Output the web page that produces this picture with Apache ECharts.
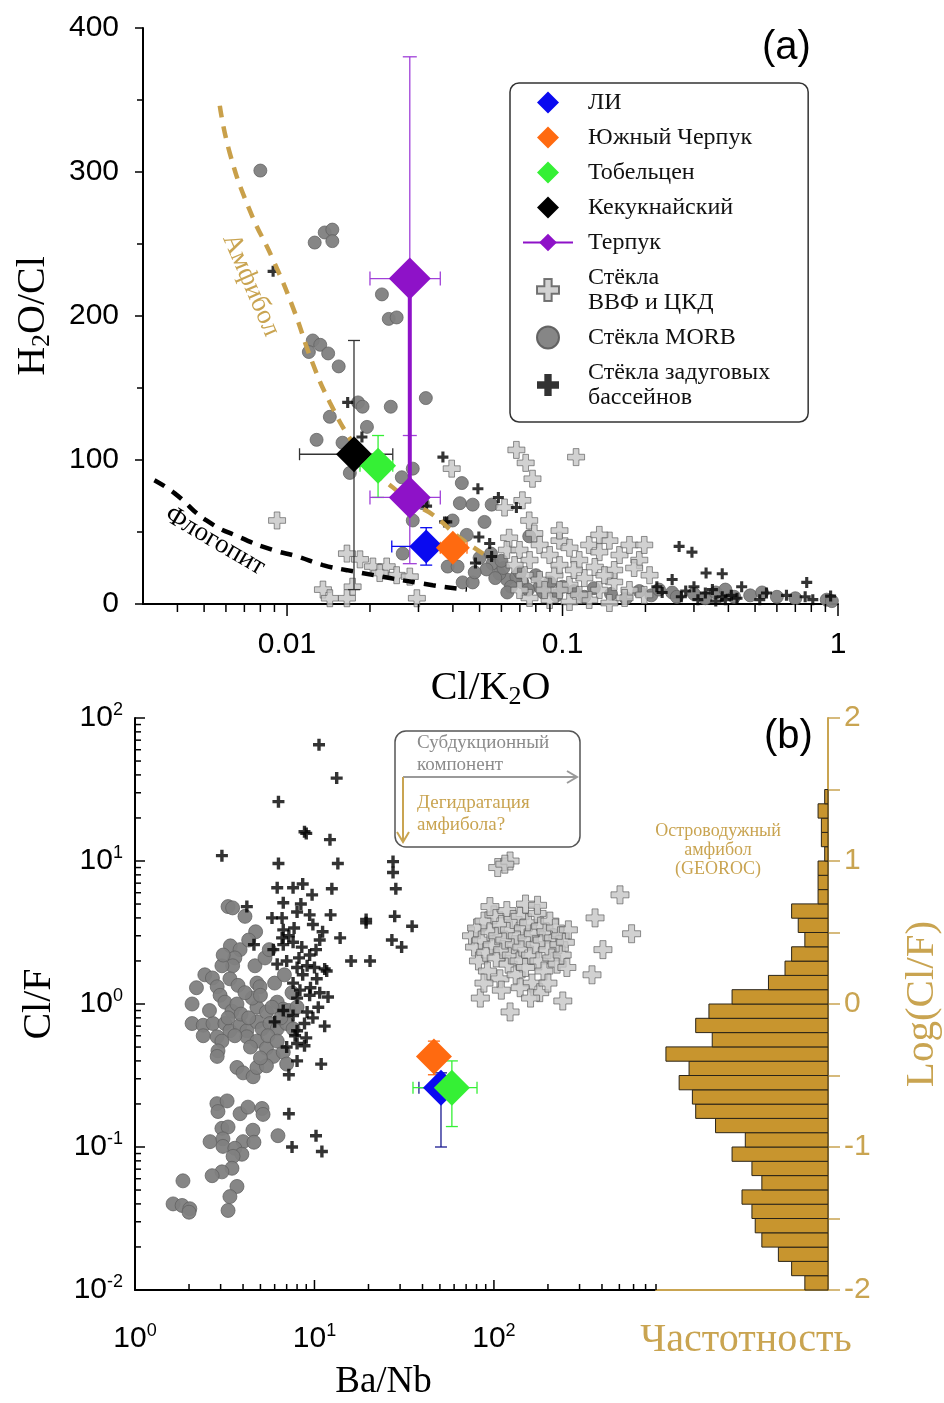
<!DOCTYPE html>
<html>
<head>
<meta charset="utf-8">
<script src="https://cdn.jsdelivr.net/npm/echarts@6/dist/echarts.min.js"></script>
<style>
  html, body { margin: 0; padding: 0; background: #fff; }
  #chart { width: 944px; height: 1403px; }
</style>
</head>
<body>
<div id="chart"></div>
<script>
// ============ data: panel (a) ============

// [Cl/K2O, H2O/Cl]
const morbA = [[0.0080,301],[0.0126,251],[0.0137,258],[0.0146,260],[0.0146,252],[0.0221,215],[0.0234,198],[0.0250,199],
  [0.0124,183],[0.0132,180],[0.0120,175],[0.0141,174],[0.0154,165],[0.0181,140],[0.0188,137],[0.0238,137],[0.0319,143],
  [0.0143,130],[0.0195,123],[0.0128,114],[0.0159,112],[0.0169,91],[0.0286,94],[0.0261,88],[0.0311,70],[0.0286,58],
  [0.0263,35],[0.0431,84],[0.0424,70],[0.0472,69],[0.0553,69],[0.0399,58],[0.0521,57],[0.0449,48],[0.0383,26],
  [0.0416,26],[0.0434,15],[0.0472,15],[0.0557,28],[0.0628,17],[0.0715,15],[0.0826,12],[0.059,21],[0.068,19],
  [0.0757,47],[0.053,24],[0.057,18],[0.061,25],[0.065,12],[0.070,22],[0.075,10],[0.080,20],[0.085,8],[0.090,15],
  [0.095,6],[0.10,12],[0.11,9],[0.12,5],[0.13,11],[0.15,7],[0.17,4],[0.19,9],[0.21,6],[0.224,10],[0.25,8],
  [0.26,5],[0.30,7],[0.33,4],[0.36,8],[0.39,10],[0.42,5],[0.48,6],[0.53,8],[0.60,5],[0.70,4],[0.91,3],[0.95,2],
  [0.050,32],[0.055,35],[0.060,30],[0.048,22],[0.063,8]];

const arcGlassA = [[0.0092,58],[0.0165,35],[0.0184,31],[0.0205,26],[0.0230,26],[0.0250,20],[0.0279,19],[0.0135,10],
  [0.0143,4],[0.0173,12],[0.0165,4],[0.0296,4],[0.0217,21.5],[0.0396,94],[0.068,107],[0.0735,98],[0.0778,87],
  [0.112,102],[0.0715,72],[0.0616,67],[0.0757,58],[0.079,49],[0.064,46],[0.0628,37.5],
  [0.0698,37.5],[0.0759,30.5],[0.0826,41],[0.0898,34],[0.0975,44],[0.106,39],[0.115,30.5],[0.125,41],[0.136,36],
  [0.148,44],[0.161,34],[0.175,41],[0.190,30.5],[0.207,20],[0.0728,20],[0.0826,16.7],[0.0935,20],[0.106,13.2],
  [0.120,18],[0.136,9.7],[0.154,15.3],[0.175,9.7],[0.198,6.3],[0.0759,4.2],[0.0898,2.8],[0.106,1.4],[0.125,2.8],
  [0.148,0.7],[0.168,4.2],[0.0975,27],[0.110,23.6],[0.131,25.7],[0.154,23.6],[0.182,25],[0.0861,9.7],[0.0698,9.7],
  [0.067,27],[0.142,20],[0.115,6.3],[0.0975,9.7],[0.0975,51],[0.136,48],[0.198,41]];

const backArcA = [[0.0089,231],[0.0166,140],[0.0187,116],[0.0368,102],[0.0321,68],[0.0373,57],[0.0493,80],[0.0585,74],
  [0.068,67],[0.038,57],[0.0497,46.5],[0.0544,42],[0.0553,33],[0.0483,28.5],[0.265,40],[0.295,36],[0.332,21.5],
  [0.38,21],[0.77,15],[0.76,5],[0.81,3],[0.94,5.5],[0.447,12],[0.55,7.6],[0.65,6],[0.33,7.6],[0.38,5],[0.41,6],
  [0.25,17],[0.30,12],[0.35,10],[0.39,3],[0.31,3],[0.23,8],[0.27,5],[0.22,12],[0.28,9],[0.36,2],[0.43,4],[0.52,3]];

// model curves
const amphCurve = [[0.0057,346],[0.0062,313],[0.0073,274],[0.0089,239],[0.0105,206],[0.0124,167],[0.0143,140],
  [0.0173,112],[0.0205,93],[0.0242,81],[0.0286,70],[0.0338,62],[0.0424,46],[0.0545,32]];
const phlogCurve = [[0.0033,86],[0.0039,77],[0.0051,58],[0.0068,46],[0.0089,37.5],[0.0109,33],[0.0135,27],
  [0.0165,23.5],[0.0338,13],[0.045,10]];

// samples: [x, y, xlo, xhi, ylo, yhi]
const liA = [[0.032, 40, 0.024, 0.042, 27, 53]];
const yuzhA = [[0.040, 39, 0.036, 0.045, 33, 45]];
const tobA = [[0.0214, 96, 0.0184, 0.0242, 74, 117]];
const kekA = [[0.0175, 104, 0.0111, 0.0242, 10, 183]];
const terpA = [[0.0279, 226, 0.020, 0.036, 72, 380], [0.0279, 74, 0.020, 0.036, 28, 117]];

// ============ data: panel (b) ============

// [Ba/Nb, Cl/F]
const morbB = [[3.3,4.8],[3.5,4.7],[4.1,4.1],[4.7,3.2],[3.4,2.55],[3.85,2.4],[3.6,2.1],[3.5,1.85],[3.05,1.85],
  [4.66,1.85],[5.3,2.1],[2.45,1.6],[2.7,1.52],[2.87,1.32],[2.98,1.15],[3.38,1.5],[3.75,1.35],[4.78,1.4],[4.97,1.32],
  [6.0,1.4],[2.08,1.0],[3.17,1.03],[3.47,0.89],[3.7,1.0],[4.78,0.95],[5.4,0.88],[6.2,1.03],[6.7,0.92],[2.08,0.73],
  [2.4,0.71],[2.72,0.73],[3.17,0.73],[3.38,0.65],[3.85,0.71],[4.2,0.65],[4.78,0.75],[5.1,0.67],[5.65,0.73],[6.2,0.67],
  [7.0,0.73],[7.6,0.67],[2.87,0.59],[3.05,0.55],[2.9,0.47],[2.87,0.43],[4.2,0.59],[4.78,0.55],[5.4,0.49],[5.9,0.43],
  [6.7,0.46],[3.7,0.36],[4.0,0.33],[4.55,0.31],[4.78,0.36],[5.4,0.37],[7.0,0.38],[3.9,0.85],[4.3,0.8],[4.5,1.1],
  [5.0,1.15],[4.1,1.2],[5.5,0.6],[6.2,0.55],[3.3,0.8],[2.6,0.9],[5.8,0.95],[4.4,0.5],[3.6,0.6],[5.0,0.42],[6.5,0.8],
  [7.2,0.9],[8.0,0.95],[7.5,1.2],[6.8,1.6],[5.6,2.4],[4.3,2.8],[3.1,2.2],[2.2,1.3],[2.4,0.6],
  [2.86,0.201],[3.26,0.210],[2.9,0.177],[3.85,0.171],[4.26,0.19],[5.1,0.186],[5.17,0.169],[3.05,0.135],[3.3,0.138],
  [4.54,0.131],[6.26,0.120],[2.62,0.109],[3.09,0.114],[4.0,0.109],[4.6,0.108],[3.09,0.101],[3.6,0.098],[3.94,0.089],
  [3.52,0.086],[3.47,0.071],[3.05,0.067],[2.69,0.063],[1.85,0.058],[3.7,0.053],[3.38,0.045],[1.63,0.040],
  [1.83,0.039],[2.02,0.037],[2.0,0.035],[3.3,0.036]];

const arcGlassB = [[105,9.0],[123,10],[115,9.5],[504,5.8],[366,4.0],[585,3.1],[405,2.4],[352,1.6],[242,1.05],[123,0.88],
  [84,1.1],[75,3.0],[78,2.5],[80,3.4],[82,2.0],[85,2.8],[88,3.8],[90,2.3],[92,1.7],[95,3.2],[98,2.6],[100,4.2],
  [103,2.1],[105,3.0],[108,1.5],[110,3.6],[112,2.4],[115,2.8],[118,4.5],[120,1.9],[122,3.3],[125,2.2],[128,3.9],
  [130,2.6],[133,1.6],[135,3.0],[138,2.0],[140,4.1],[143,2.5],[146,3.4],[150,1.8],[153,2.9],[156,3.7],[160,2.2],
  [163,1.4],[166,3.1],[170,2.6],[174,4.3],[178,2.0],[182,3.5],[186,2.8],[190,1.7],[195,3.2],[200,2.4],[205,3.8],
  [210,2.1],[215,2.9],[220,3.4],[225,1.9],[230,2.6],[235,3.0],[240,2.2],[250,2.7],[255,1.8],[260,3.3],[88,1.4],
  [140,1.3],[180,1.2],[200,1.4],[95,4.8],[150,5.0],[175,4.9],[110,1.25],[160,1.1]];

const backArcB = [[10.6,65],[13.3,38],[6.3,26],[9.0,15.6],[8.8,16],[12.2,14.1],[3.05,10.9],[6.3,9.6],[13.5,9.6],
  [27.4,9.9],[27.4,8.3],[28.4,6.4],[6.2,6.5],[7.6,6.5],[8.6,6.9],[9.7,5.8],[12.5,6.4],[4.2,4.8],[6.7,5.1],[8.4,5.0],
  [8.0,4.4],[9.4,4.2],[12.3,4.2],[5.8,4.0],[6.6,4.0],[7.7,3.4],[19.4,3.9],[19.4,3.7],[28,4.1],[35,3.5],[13.9,2.9],
  [11.1,3.2],[10.7,2.8],[6.7,3.3],[6.6,2.9],[4.6,2.6],[5.9,2.4],[6.7,2.6],[7.6,2.7],[8.5,2.5],[9.4,2.2],[27,2.8],
  [30.6,2.5],[6.2,1.9],[7.0,2.0],[8.0,1.8],[9.1,1.85],[10.0,1.8],[11.4,1.76],[16,2.0],[20.4,2.0],[7.6,1.4],[8.6,1.6],
  [10.3,1.5],[11.7,1.7],[8.0,1.1],[9.4,1.15],[10.7,1.2],[11.9,1.12],[6.7,0.9],[7.6,0.83],[9.1,0.88],[9.8,0.8],
  [6.0,0.75],[8.0,0.65],[8.8,0.73],[11.4,0.70],[7.0,0.50],[8.0,0.53],[8.8,0.51],[8.0,0.40],[10.9,0.38],[7.2,0.32],
  [7.2,0.171],[10.2,0.12],[7.5,0.10],[11.0,0.093],[9.5,1.3],[8.3,1.25],[10.5,0.95],[7.8,0.6],[9.0,0.58],[8.2,2.1],
  [7.2,3.0],[9.8,3.6],[10.2,2.4]];

const liB = [[50.7, 0.26, 38.2, 56, 0.10, 0.33]];
const yuzhB = [[46.3, 0.43, 42, 51, 0.32, 0.55]];
const tobB = [[58.3, 0.26, 35.4, 80.5, 0.139, 0.40]];

// histogram of Log(Cl/F) in arc amphibole (GEOROC)
const histLow = [-2.0,-1.9,-1.8,-1.7,-1.6,-1.5,-1.4,-1.3,-1.2,-1.1,-1.0,-0.9,-0.8,-0.7,-0.6,-0.5,-0.4,-0.3,
  -0.2,-0.1,0.0,0.1,0.2,0.3,0.4,0.5,0.6,0.7,0.8,0.9,1.0,1.1,1.2,1.3,1.4];
const histCount = [7,11,15,20,22,23,26,20,23,29,25,34,40,41,45,42,49,35,40,36,29,18,13,11,7,9,11,3,3,3,1,2,2,3,1];
const histBinWidth = 0.1;

// tick positions
const ticksAx = [0.004,0.005,0.006,0.007,0.008,0.009,0.01,0.02,0.03,0.04,0.05,0.06,0.07,0.08,0.09,0.1,
  0.2,0.3,0.4,0.5,0.6,0.7,0.8,0.9,1];
const ticksBx = [1,2,3,4,5,6,7,8,9,10,20,30,40,50,60,70,80,90,100,200,300,400,500,600,700,800];
const ticksBy = [0.01,0.02,0.03,0.04,0.05,0.06,0.07,0.08,0.09,0.1,0.2,0.3,0.4,0.5,0.6,0.7,0.8,0.9,1,
  2,3,4,5,6,7,8,9,10,20,30,40,50,60,70,80,90,100];

// ============ styles ============
const SERIF = 'Liberation Serif';
const SANS = 'Liberation Sans';
const GOLD = '#c9a451';
const GOLD_BAR = '#c8952e';
const C_LI = '#0a0af0', C_YU = '#ff6a10', C_TOB = '#35f035', C_KEK = '#000000', C_TER = '#8e12c8';
const TICK_FONT = 30;

const AX_A = { xMin: 0.003, xMax: 1, yMin: 0, yMax: 400 };
const AX_B = { xMin: 1, xMax: 800, yMin: 0.01, yMax: 100 };

const PLUS_FAT = 'path://M-1,-3L1,-3L1,-1L3,-1L3,1L1,1L1,3L-1,3L-1,1L-3,1L-3,-1L-1,-1Z';
const PLUS_THIN = 'path://M-0.85,-3L0.85,-3L0.85,-0.85L3,-0.85L3,0.85L0.85,0.85L0.85,3L-0.85,3L-0.85,0.85L-3,0.85L-3,-0.85L-0.85,-0.85Z';
const DIAMOND = 'path://M0,-1L1,0L0,1L-1,0Z';
const CIRCLE = 'path://M-1,0A1,1,0,1,0,1,0A1,1,0,1,0,-1,0Z';

// ============ helpers ============

function isMajor(v) {
  const e = Math.log10(v);
  return Math.abs(e - Math.round(e)) < 1e-6 ? 1 : 0;
}

function powLabel(v) {
  if (!isMajor(v)) return '';
  return '{b|10}{s|' + Math.round(Math.log10(v)) + '}';
}

// error bars through the axis scales
function errorBarRender(cap) {
  return function (params, api) {
    const x = api.value(0), y = api.value(1);
    const l = api.coord([api.value(2), y]);
    const r = api.coord([api.value(3), y]);
    const b = api.coord([x, api.value(4)]);
    const t = api.coord([x, api.value(5)]);
    const h = cap / 2;
    const style = { stroke: api.visual('color'), lineWidth: 1.3, fill: null };
    return {
      type: 'group',
      children: [
        { type: 'line', shape: { x1: l[0], y1: l[1], x2: r[0], y2: r[1] }, style },
        { type: 'line', shape: { x1: l[0], y1: l[1] - h, x2: l[0], y2: l[1] + h }, style },
        { type: 'line', shape: { x1: r[0], y1: r[1] - h, x2: r[0], y2: r[1] + h }, style },
        { type: 'line', shape: { x1: b[0], y1: b[1], x2: t[0], y2: t[1] }, style },
        { type: 'line', shape: { x1: b[0] - h, y1: b[1], x2: b[0] + h, y2: b[1] }, style },
        { type: 'line', shape: { x1: t[0] - h, y1: t[1], x2: t[0] + h, y2: t[1] }, style }
      ]
    };
  };
}

function errorBars(data, color, gridIdx, cap) {
  return {
    type: 'custom', xAxisIndex: gridIdx, yAxisIndex: gridIdx, z: 5, silent: true, clip: false,
    itemStyle: { color },
    encode: { x: [0, 2, 3], y: [1, 4, 5] },
    renderItem: errorBarRender(cap),
    data
  };
}

function sampleSeries(name, data, color, gridIdx, size) {
  return {
    name, type: 'scatter', xAxisIndex: gridIdx, yAxisIndex: gridIdx, z: 6,
    symbol: 'diamond', symbolSize: size,
    itemStyle: { color, opacity: 1 },
    data: data.map(d => [d[0], d[1]])
  };
}

// tick marks along an axis, drawn from scale values (dir: +1 down/right, -1 up/left)
function tickSeries(gridIdx, rows, vertical, dir, majorLen, minorLen) {
  return {
    type: 'custom', xAxisIndex: gridIdx, yAxisIndex: gridIdx, z: 3, silent: true, clip: false,
    encode: { x: 0, y: 1 },
    renderItem(params, api) {
      const p = api.coord([api.value(0), api.value(1)]);
      const len = api.value(2) ? majorLen : minorLen;
      const shape = vertical
        ? { x1: p[0], y1: p[1], x2: p[0], y2: p[1] + dir * len }
        : { x1: p[0], y1: p[1], x2: p[0] + dir * len, y2: p[1] };
      return { type: 'line', shape, style: { stroke: '#000', lineWidth: 1.5 } };
    },
    data: rows
  };
}

function histRender(params, api) {
  const tip = api.coord([api.value(0), api.value(2)]);
  const base = api.coord([0, api.value(1)]);
  return {
    type: 'rect',
    shape: { x: tip[0], y: tip[1], width: base[0] - tip[0], height: base[1] - tip[1] },
    style: { fill: GOLD_BAR, stroke: '#2a2418', lineWidth: 1 }
  };
}

const labelRich = {
  b: { fontSize: TICK_FONT, fontFamily: SANS, color: '#000' },
  s: { fontSize: 18, fontFamily: SANS, color: '#000', padding: [0, 0, 16, 0] }
};

const subRich = {
  m: { fontSize: 40, fontFamily: SERIF, color: '#000' },
  d: { fontSize: 26, fontFamily: SERIF, color: '#000', padding: [18, 0, 0, 0] }
};

// ============ option ============

const option = {
  animation: false,
  backgroundColor: '#fff',
  grid: [
    { left: 143, top: 28, width: 695, height: 576 },
    { left: 135, top: 718, width: 521, height: 572 },
    { left: 656, top: 718, width: 176, height: 572 }
  ],
  xAxis: [
    {
      gridIndex: 0, type: 'log', min: AX_A.xMin, max: AX_A.xMax,
      axisLine: { lineStyle: { color: '#000', width: 2 } },
      axisTick: { show: false }, splitLine: { show: false },
      axisLabel: {
        margin: 26, fontSize: TICK_FONT, fontFamily: SANS, color: '#000',
        formatter: v => (isMajor(v) ? String(Number(v.toPrecision(6))) : '')
      },
      name: '{m|Cl/K}{d|2}{m|O}', nameLocation: 'middle', nameGap: 62,
      nameTextStyle: { rich: subRich }
    },
    {
      gridIndex: 1, type: 'log', min: AX_B.xMin, max: AX_B.xMax,
      axisLine: { lineStyle: { color: '#000', width: 2 } },
      axisTick: { show: false }, splitLine: { show: false },
      axisLabel: { margin: 32, formatter: powLabel, rich: labelRich },
      name: 'Ba/Nb', nameLocation: 'middle', nameGap: 74,
      nameTextStyle: { fontSize: 37, fontFamily: SERIF, color: '#000', padding: [0, 24, 0, 0] }
    },
    {
      gridIndex: 2, type: 'value', min: 0, max: 52, inverse: true,
      axisLine: { onZero: false, lineStyle: { color: GOLD, width: 2 } },
      axisTick: { show: false }, axisLabel: { show: false }, splitLine: { show: false },
      name: 'Частотность', nameLocation: 'middle', nameGap: 30,
      nameTextStyle: { fontSize: 40, fontFamily: SERIF, color: GOLD, padding: [0, 0, 0, 8] }
    }
  ],
  yAxis: [
    {
      gridIndex: 0, type: 'value', min: AX_A.yMin, max: AX_A.yMax, interval: 100,
      axisLine: { lineStyle: { color: '#000', width: 2 } },
      axisTick: { length: 8, lineStyle: { width: 1.5 } },
      minorTick: { show: true, splitNumber: 2, length: 6, lineStyle: { color: '#000', width: 1.5 } },
      splitLine: { show: false },
      axisLabel: { margin: 24, fontSize: TICK_FONT, fontFamily: SANS, color: '#000' },
      name: '{m|H}{d|2}{m|O/Cl}', nameLocation: 'middle', nameRotate: 90, nameGap: 88,
      nameTextStyle: { rich: subRich }
    },
    {
      gridIndex: 1, type: 'log', min: AX_B.yMin, max: AX_B.yMax,
      axisLine: { lineStyle: { color: '#000', width: 2 } },
      axisTick: { show: false }, splitLine: { show: false },
      axisLabel: { margin: 12, formatter: powLabel, rich: labelRich },
      name: 'Cl/F', nameLocation: 'middle', nameRotate: 90, nameGap: 76,
      nameTextStyle: { fontSize: 40, fontFamily: SERIF, color: '#000' }
    },
    {
      gridIndex: 2, type: 'value', min: -2, max: 2, interval: 1, position: 'right',
      axisLine: { lineStyle: { color: GOLD, width: 2 } },
      axisTick: { length: 12, lineStyle: { color: GOLD, width: 1.5 } },
      minorTick: { show: true, splitNumber: 2, length: 12, lineStyle: { color: GOLD, width: 1.5 } },
      splitLine: { show: false },
      axisLabel: { margin: 16, fontSize: TICK_FONT, fontFamily: SANS, color: GOLD },
      name: 'Log(Cl/F)', nameLocation: 'middle', nameRotate: 90, nameGap: 74,
      nameTextStyle: { fontSize: 41, fontFamily: SERIF, color: GOLD }
    }
  ],
  legend: {
    left: 510, top: 83, orient: 'vertical', selectedMode: false,
    itemWidth: 50, itemHeight: 22, itemGap: 10,
    padding: [7, 38, 12, 12],
    borderColor: '#333', borderWidth: 1.5, borderRadius: 9,
    textStyle: { fontFamily: SERIF, fontSize: 24, lineHeight: 25, color: '#111', padding: [0, 0, 0, 10] },
    data: [
      { name: 'ЛИ', icon: DIAMOND },
      { name: 'Южный Черпук', icon: DIAMOND },
      { name: 'Тобельцен', icon: DIAMOND },
      { name: 'Кекукнайский', icon: DIAMOND },
      { name: 'Терпук' },
      { name: 'Стёкла\nВВФ и ЦКД', icon: PLUS_FAT },
      { name: 'Стёкла MORB', icon: CIRCLE },
      { name: 'Стёкла задуговых\nбассейнов', icon: PLUS_FAT }
    ]
  },
  graphic: [
    { type: 'text', left: 762, top: 28, style: { text: '(a)', font: '40px ' + SANS, fill: '#000' } },
    { type: 'text', left: 764, top: 717, style: { text: '(b)', font: '40px ' + SANS, fill: '#000' } },
    {
      type: 'text', x: 251, y: 285, rotation: -1.16,
      style: { text: 'Амфибол', font: '27px ' + SERIF, fill: GOLD, align: 'center', verticalAlign: 'middle' }
    },
    {
      type: 'text', x: 215, y: 541, rotation: -0.53,
      style: { text: 'Флогопит', font: '27px ' + SERIF, fill: '#000', align: 'center', verticalAlign: 'middle' }
    },
    {
      type: 'rect', shape: { x: 395, y: 731, width: 185, height: 116, r: 11 },
      style: { fill: 'none', stroke: '#555', lineWidth: 1.5 }
    },
    {
      type: 'text', left: 417, top: 732,
      style: { text: 'Субдукционный\nкомпонент', font: '19px ' + SERIF, lineHeight: 22, fill: '#8c8c8c' }
    },
    { type: 'line', shape: { x1: 403, y1: 777, x2: 577, y2: 777 }, style: { stroke: '#9a9a9a', lineWidth: 2 } },
    { type: 'polyline', shape: { points: [[567, 771], [577, 777], [567, 783]] }, style: { stroke: '#9a9a9a', lineWidth: 2, fill: 'none' } },
    { type: 'line', shape: { x1: 403, y1: 777, x2: 403, y2: 842 }, style: { stroke: GOLD, lineWidth: 2 } },
    { type: 'polyline', shape: { points: [[397, 832], [403, 842], [409, 832]] }, style: { stroke: GOLD, lineWidth: 2, fill: 'none' } },
    {
      type: 'text', left: 417, top: 792,
      style: { text: 'Дегидратация\nамфибола?', font: '19px ' + SERIF, lineHeight: 22, fill: GOLD }
    },
    {
      type: 'text', x: 718, y: 850,
      style: { text: 'Островодужный\nамфибол\n(GEOROC)', font: '18px ' + SERIF, lineHeight: 19, fill: GOLD, align: 'center', verticalAlign: 'middle' }
    }
  ],
  series: [
    // ---------- panel (a) ----------
    {
      name: 'Стёкла MORB', type: 'scatter', xAxisIndex: 0, yAxisIndex: 0, z: 2,
      symbol: 'circle', symbolSize: 13,
      itemStyle: { color: '#7f7f7f', borderColor: '#5f5f5f', borderWidth: 0.8, opacity: 0.95 },
      data: morbA
    },
    {
      name: 'Стёкла\nВВФ и ЦКД', type: 'scatter', xAxisIndex: 0, yAxisIndex: 0, z: 2,
      symbol: PLUS_FAT, symbolSize: 17,
      itemStyle: { color: '#c6c6c6', borderColor: '#555', borderWidth: 0.8 },
      data: arcGlassA
    },
    {
      name: 'Стёкла задуговых\nбассейнов', type: 'scatter', xAxisIndex: 0, yAxisIndex: 0, z: 2,
      symbol: PLUS_THIN, symbolSize: 11,
      itemStyle: { color: '#000' },
      data: backArcA
    },
    {
      type: 'line', xAxisIndex: 0, yAxisIndex: 0, z: 3, silent: true, smooth: true,
      symbol: 'none', lineStyle: { color: '#c9a04a', width: 4.5, type: [12, 9] },
      data: amphCurve
    },
    {
      type: 'line', xAxisIndex: 0, yAxisIndex: 0, z: 3, silent: true, smooth: true,
      symbol: 'none', lineStyle: { color: '#000', width: 4.5, type: [12, 9] },
      data: phlogCurve
    },
    errorBars(kekA, '#333', 0, 12),
    errorBars(tobA, C_TOB, 0, 12),
    errorBars(terpA, '#a040d8', 0, 14),
    errorBars(liA, C_LI, 0, 12),
    errorBars(yuzhA, C_YU, 0, 12),
    sampleSeries('Кекукнайский', kekA, C_KEK, 0, 36),
    sampleSeries('Тобельцен', tobA, C_TOB, 0, 36),
    {
      name: 'Терпук', type: 'line', xAxisIndex: 0, yAxisIndex: 0, z: 6,
      symbol: 'diamond', symbolSize: 42,
      lineStyle: { color: C_TER, width: 4 },
      itemStyle: { color: C_TER },
      data: terpA.map(d => [d[0], d[1]])
    },
    sampleSeries('ЛИ', liA, C_LI, 0, 34),
    sampleSeries('Южный Черпук', yuzhA, C_YU, 0, 34),
    tickSeries(0, ticksAx.map(v => [v, AX_A.yMin, isMajor(v)]), true, 1, 12, 8),

    // ---------- panel (b) ----------
    {
      name: 'Стёкла MORB', type: 'scatter', xAxisIndex: 1, yAxisIndex: 1, z: 2,
      symbol: 'circle', symbolSize: 14,
      itemStyle: { color: '#7f7f7f', borderColor: '#5f5f5f', borderWidth: 0.8, opacity: 0.95 },
      data: morbB
    },
    {
      name: 'Стёкла\nВВФ и ЦКД', type: 'scatter', xAxisIndex: 1, yAxisIndex: 1, z: 2,
      symbol: PLUS_FAT, symbolSize: 18,
      itemStyle: { color: '#c6c6c6', borderColor: '#555', borderWidth: 0.8 },
      data: arcGlassB
    },
    {
      name: 'Стёкла задуговых\nбассейнов', type: 'scatter', xAxisIndex: 1, yAxisIndex: 1, z: 2,
      symbol: PLUS_THIN, symbolSize: 12,
      itemStyle: { color: '#000' },
      data: backArcB
    },
    errorBars(liB, '#1a1a90', 1, 12),
    errorBars(yuzhB, C_YU, 1, 12),
    errorBars(tobB, C_TOB, 1, 12),
    sampleSeries('ЛИ', liB, C_LI, 1, 36),
    sampleSeries('Южный Черпук', yuzhB, C_YU, 1, 36),
    sampleSeries('Тобельцен', tobB, C_TOB, 1, 36),
    tickSeries(1, ticksBx.map(v => [v, AX_B.yMin, isMajor(v)]), true, -1, 10, 6),
    tickSeries(1, ticksBy.map(v => [AX_B.xMin, v, isMajor(v)]), false, 1, 10, 6),

    // histogram
    {
      type: 'custom', xAxisIndex: 2, yAxisIndex: 2, z: 2, silent: true,
      encode: { x: 0, y: [1, 2] },
      renderItem: histRender,
      data: histCount.map((c, i) => [c, histLow[i], histLow[i] + histBinWidth])
    }
  ]
};

const chart = echarts.init(document.getElementById('chart'), null, { renderer: 'canvas' });
chart.setOption(option);
</script>
</body>
</html>
